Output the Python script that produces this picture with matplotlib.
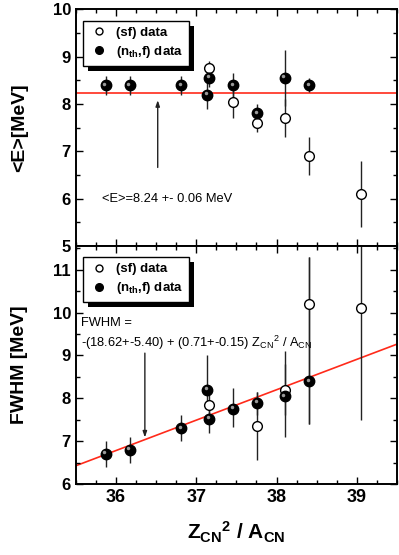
import matplotlib.pyplot as plt
import numpy as np
from matplotlib.patches import Rectangle
from matplotlib.lines import Line2D
from matplotlib.transforms import offset_copy, IdentityTransform
from matplotlib.ticker import MultipleLocator

plt.rcParams['font.family'] = ['Liberation Sans', 'DejaVu Sans']
plt.rcParams['mathtext.fontset'] = 'custom'
plt.rcParams['mathtext.rm'] = 'Liberation Sans'
plt.rcParams['mathtext.it'] = 'Liberation Sans'
plt.rcParams['mathtext.bf'] = 'Liberation Sans:bold'

# mean energy panel, (n_th,f) data
e_nf_x = [35.87, 36.17, 36.81, 37.14, 37.16, 37.46, 37.76, 38.10, 38.41]
e_nf_y = [8.40, 8.40, 8.40, 8.20, 8.55, 8.40, 7.80, 8.55, 8.40]
e_nf_err = [0.20, 0.20, 0.20, 0.30, 0.20, 0.25, 0.20, 0.60, 0.15]
# mean energy panel, (sf) data
e_sf_x = [37.16, 37.46, 37.76, 38.10, 38.41, 39.05]
e_sf_y = [8.77, 8.05, 7.60, 7.70, 6.90, 6.10]
e_sf_err = [0.15, 0.35, 0.20, 0.40, 0.40, 0.70]
e_mean = 8.24

# FWHM panel, (n_th,f) data
w_nf_x = [35.87, 36.17, 36.81, 37.14, 37.16, 37.46, 37.76, 38.10, 38.41]
w_nf_y = [6.70, 6.80, 7.30, 8.20, 7.52, 7.76, 7.90, 8.05, 8.40]
w_nf_lo = [0.30, 0.30, 0.30, 0.30, 0.32, 0.42, 0.30, 0.95, 1.00]
w_nf_hi = [0.30, 0.30, 0.30, 0.80, 0.30, 0.48, 0.25, 1.05, 2.90]
# FWHM panel, (sf) data
w_sf_x = [37.16, 37.76, 38.10, 38.41, 39.05]
w_sf_y = [7.85, 7.36, 8.20, 10.20, 10.10]
w_sf_lo = [0.30, 0.81, 0.60, 2.80, 2.60]
w_sf_hi = [0.30, 0.79, 0.60, 1.10, 2.60]
fit_a = -18.78
fit_b = 0.71

fig = plt.figure(figsize=(3.99, 5.55), dpi=100)
ax1 = fig.add_axes([0.19, 0.557, 0.805, 0.426])
ax2 = fig.add_axes([0.19, 0.128, 0.805, 0.429], sharex=ax1)


def draw_points(ax, x, y, yerr, filled):
    ax.errorbar(x, y, yerr=yerr, fmt='none', ecolor='#222222',
                elinewidth=1.0, capsize=0, zorder=2)
    if filled:
        ax.plot(x, y, 'o', ms=7.5, mfc='black', mec='black', zorder=3)
        hl = offset_copy(ax.transData, fig=fig, x=-1.5, y=1.5, units='dots')
        ax.plot(x, y, 'o', ms=2.5, mfc='#9a9a9a', mec='none',
                transform=hl, zorder=4)
    else:
        ax.plot(x, y, 'o', ms=7, mfc='white', mec='black',
                mew=1.0, zorder=3)


def style_axis(ax):
    ax.set_xlim(35.5, 39.5)
    ax.xaxis.set_major_locator(MultipleLocator(1))
    ax.xaxis.set_minor_locator(MultipleLocator(0.25))
    ax.yaxis.set_major_locator(MultipleLocator(1))
    ax.yaxis.set_minor_locator(MultipleLocator(0.5))
    ax.tick_params(which='both', direction='in', top=True, right=True,
                   width=1.0)
    ax.tick_params(which='major', length=5)
    ax.tick_params(which='minor', length=3)
    ax.tick_params(axis='y', labelsize=12)
    ax.tick_params(axis='x', labelsize=13)
    for lab in ax.get_xticklabels() + ax.get_yticklabels():
        lab.set_fontweight('bold')
    for sp in ax.spines.values():
        sp.set_linewidth(1.4)
    ax.yaxis.set_label_coords(-0.15, 0.5)


def add_legend(ax):
    handles = [Line2D([], [], ls='none', marker='o', ms=5, mfc='white',
                      mec='black'),
               Line2D([], [], ls='none', marker='o', ms=5.5, mfc='black',
                      mec='black')]
    labels = ['(sf) data', r'(n$_{\mathbf{th}}$,f) data']
    leg = ax.legend(handles, labels, loc='upper left',
                    bbox_to_anchor=(0.003, 0.98), fancybox=False,
                    framealpha=1, edgecolor='black', borderpad=0.45,
                    handletextpad=0.5, labelspacing=0.38, handlelength=1.5,
                    prop={'weight': 'bold', 'size': 9.5})
    leg.get_frame().set_linewidth(1.0)
    leg.set_zorder(6)
    return leg


# top panel
ax1.axhline(e_mean, color='#ff2a1a', lw=1.2, zorder=1)
draw_points(ax1, e_sf_x, e_sf_y, e_sf_err, False)
draw_points(ax1, e_nf_x, e_nf_y, e_nf_err, True)
ax1.annotate('', xy=(36.52, 8.14), xytext=(36.52, 6.6),
             arrowprops=dict(arrowstyle='-|>,head_length=0.35,head_width=0.12',
                             color='#222222', lw=1.0))
ax1.text(35.83, 6.0, '<E>=8.24 +- 0.06 MeV', fontsize=9.3, va='center')
ax1.set_ylim(5, 10)
ax1.set_ylabel('<E>[MeV]', fontsize=14, fontweight='bold')
style_axis(ax1)
ax1.tick_params(axis='x', labelbottom=False)
leg1 = add_legend(ax1)

# bottom panel
xf = np.array([35.5, 39.5])
ax2.plot(xf, fit_a + fit_b * xf, color='#ff2a1a', lw=1.2, zorder=1)
draw_points(ax2, w_sf_x, w_sf_y, [w_sf_lo, w_sf_hi], False)
draw_points(ax2, w_nf_x, w_nf_y, [w_nf_lo, w_nf_hi], True)
ax2.annotate('', xy=(36.36, 7.02), xytext=(36.36, 9.12),
             arrowprops=dict(arrowstyle='-|>,head_length=0.35,head_width=0.12',
                             color='#222222', lw=1.0))
ax2.text(35.57, 9.76, 'FWHM =', fontsize=9.3, va='center')
ax2.text(35.57, 9.3,
         r'-(18.62+-5.40) + (0.71+-0.15) Z$_{\rm CN}$$^{2}$ / A$_{\rm CN}$',
         fontsize=9.3, va='center')
ax2.set_ylim(6, 11.56)
ax2.set_ylabel('FWHM [MeV]', fontsize=14, fontweight='bold')
ax2.set_xlabel(r'Z$_{\mathbf{CN}}$$^{\mathbf{2}}$ / A$_{\mathbf{CN}}$',
               fontsize=15, fontweight='bold', labelpad=10)
style_axis(ax2)
leg2 = add_legend(ax2)

# black drop shadow behind each legend box
fig.canvas.draw()
for ax, leg in [(ax1, leg1), (ax2, leg2)]:
    bb = leg.get_frame().get_window_extent()
    sh = Rectangle((bb.x0 + 5, bb.y0 - 5), bb.width, bb.height,
                   transform=IdentityTransform(), facecolor='black',
                   edgecolor='none', zorder=5.5, clip_on=False)
    ax.add_artist(sh)

fig.savefig('out.png', dpi=100)
